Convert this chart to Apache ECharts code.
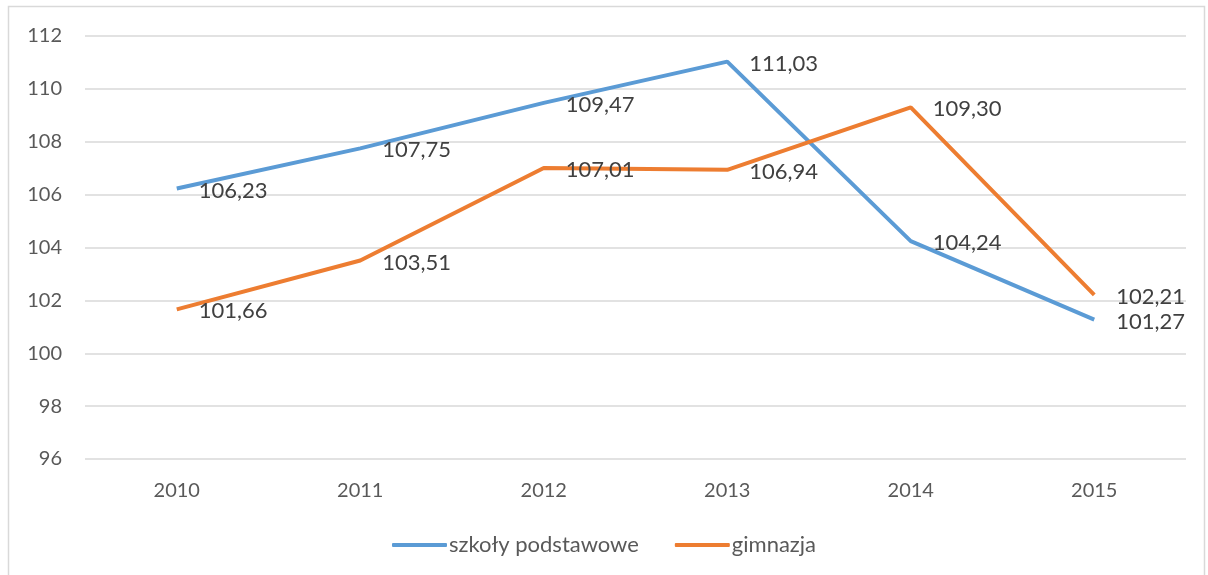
<!DOCTYPE html>
<html>
<head>
<meta charset="utf-8">
<script src="https://cdn.jsdelivr.net/npm/echarts@6/dist/echarts.min.js"></script>
<style>
  html, body { margin: 0; padding: 0; background: #fff; }
  #chart { width: 1208px; height: 575px; }
</style>
</head>
<body>
<div id="chart"></div>
<script>
const years = ['2010', '2011', '2012', '2013', '2014', '2015'];
const podstawowe = [106.23, 107.75, 109.47, 111.03, 104.24, 101.27];
const gimnazja = [101.66, 103.51, 107.01, 106.94, 109.30, 102.21];

const fontFamily = 'Lato, "Open Sans", sans-serif';
const fmt = (p) => p.value.toFixed(2).replace('.', ',');

const chart = echarts.init(document.getElementById('chart'), null, { renderer: 'canvas' });

function line(name, data, color) {
  return {
    name,
    type: 'line',
    data,
    symbol: 'circle',
    symbolSize: 0,
    showSymbol: true,
    lineStyle: { color, width: 4 },
    itemStyle: { color },
    label: {
      show: true,
      position: 'right',
      distance: 22,
      offset: [0, 2],
      formatter: fmt,
      color: '#404040',
      fontSize: 22,
      fontFamily
    },
    z: 3
  };
}

chart.setOption({
  animation: false,
  graphic: [{
    type: 'rect',
    shape: { x: 8.5, y: 6.5, width: 1196, height: 600 },
    style: { fill: 'none', stroke: '#d9d9d9', lineWidth: 1.5 },
    silent: true
  }],
  grid: { left: 85, right: 22, top: 36, bottom: 116 },
  legend: {
    bottom: 14,
    left: 'center',
    itemWidth: 55,
    itemHeight: 4,
    itemGap: 36,
    icon: 'roundRect',
    textStyle: { color: '#595959', fontSize: 22, fontFamily, padding: [0, 0, 0, -3] },
    data: ['szkoły podstawowe', 'gimnazja']
  },
  xAxis: {
    type: 'category',
    data: years,
    boundaryGap: true,
    axisLine: { show: false },
    axisTick: { show: false },
    axisLabel: { color: '#595959', fontSize: 20, fontFamily, margin: 22 }
  },
  yAxis: {
    type: 'value',
    min: 96,
    max: 112,
    interval: 2,
    axisLine: { show: false },
    axisTick: { show: false },
    axisLabel: { color: '#595959', fontSize: 20, fontFamily, margin: 23 },
    splitLine: { lineStyle: { color: '#d9d9d9', width: 1.5 } }
  },
  series: [
    line('szkoły podstawowe', podstawowe, '#5B9BD5'),
    line('gimnazja', gimnazja, '#ED7D31')
  ]
});
</script>
</body>
</html>
